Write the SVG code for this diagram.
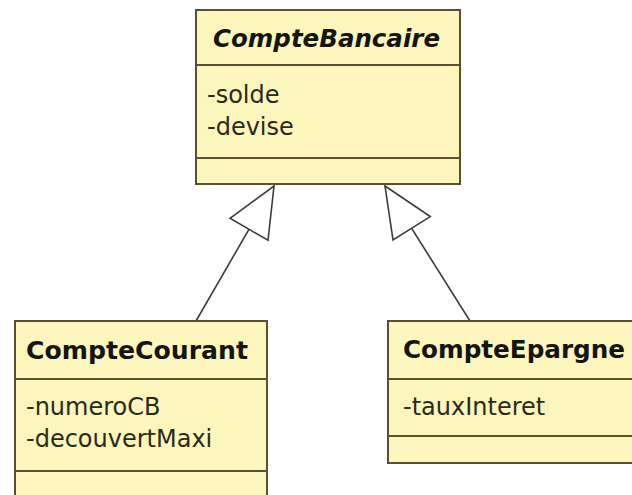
<svg xmlns="http://www.w3.org/2000/svg" width="632" height="495" viewBox="0 0 632 495">
  <style>
    .box { fill: #fcf6bd; stroke: #5a5030; stroke-width: 2; }
    .sep { stroke: #5a5030; stroke-width: 2; }
    .name { font-family: "DejaVu Sans", Verdana, sans-serif; font-weight: bold; font-size: 24px; fill: #151510; }
    .abstract { font-style: italic; }
    .attr { font-family: "DejaVu Sans", Verdana, sans-serif; font-size: 24px; fill: #2a2a18; }
    .conn { fill: none; stroke: #3c3c3c; stroke-width: 1.6; marker-end: url(#gen); }
  </style>
  <defs>
    <marker id="gen" viewBox="-2 -2 54 48" refX="50" refY="22" markerWidth="54" markerHeight="48" markerUnits="userSpaceOnUse" orient="auto">
      <path d="M0,0 L50,22 L0,44 Z" fill="#ffffff" stroke="#3c3c3c" stroke-width="1.6"/>
    </marker>
  </defs>
  <rect width="632" height="495" fill="#ffffff"/>

  <g id="connectors">
    <path class="conn" d="M196,321 L274,186"/>
    <path class="conn" d="M470,321 L385,186"/>
  </g>

  <g id="CompteBancaire">
    <rect class="box" x="196" y="10" width="264" height="174"/>
    <line class="sep" x1="196" y1="65" x2="460" y2="65"/>
    <line class="sep" x1="196" y1="158" x2="460" y2="158"/>
    <text class="name abstract" x="213" y="47" textLength="227" lengthAdjust="spacingAndGlyphs">CompteBancaire</text>
    <text class="attr" x="207" y="103">-solde</text>
    <text class="attr" x="207" y="135">-devise</text>
  </g>

  <g id="CompteCourant">
    <rect class="box" x="15" y="321" width="252" height="185"/>
    <line class="sep" x1="15" y1="379" x2="267" y2="379"/>
    <line class="sep" x1="15" y1="471" x2="267" y2="471"/>
    <text class="name" x="26" y="359" textLength="222" lengthAdjust="spacingAndGlyphs">CompteCourant</text>
    <text class="attr" x="26" y="415">-numeroCB</text>
    <text class="attr" x="26" y="447">-decouvertMaxi</text>
  </g>

  <g id="CompteEpargne">
    <rect class="box" x="388" y="321" width="250" height="142"/>
    <line class="sep" x1="388" y1="379" x2="638" y2="379"/>
    <line class="sep" x1="388" y1="436" x2="638" y2="436"/>
    <text class="name" x="403" y="358" textLength="222" lengthAdjust="spacingAndGlyphs">CompteEpargne</text>
    <text class="attr" x="403" y="415">-tauxInteret</text>
  </g>
</svg>
